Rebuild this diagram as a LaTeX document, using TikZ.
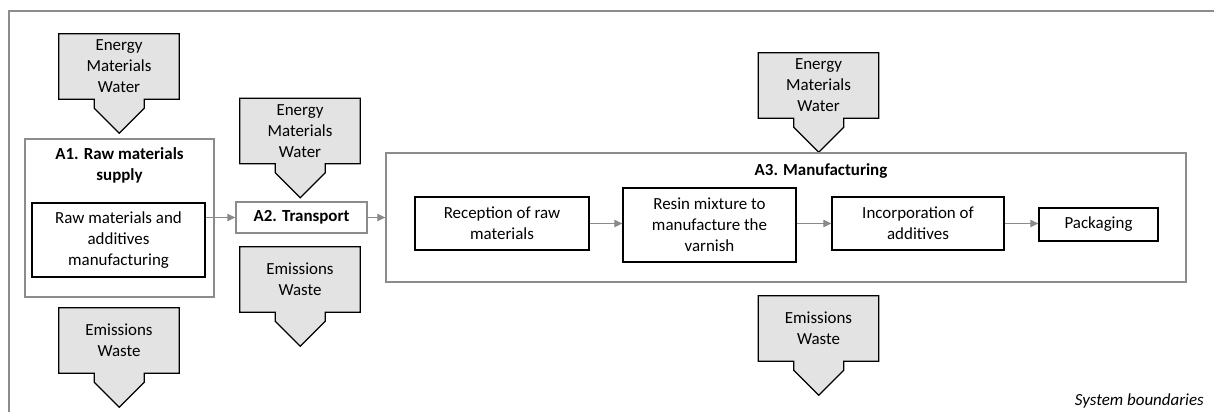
\documentclass[tikz,border=0pt]{standalone}
\usepackage{fontspec}
\setmainfont{Carlito}
\usetikzlibrary{arrows.meta,backgrounds}
\definecolor{bgray}{HTML}{8C8C8C}
\definecolor{fgray}{HTML}{E3E3E3}
\definecolor{agray}{HTML}{8A8A8A}
\newcommand\flowshape[1]{%
  \draw[flowline] (#1.north west) -- (#1.north east) -- (#1.south east) -- ++(-35,0) -- ++(0,9) -- ++(-25,25) -- ++(-25,-25) -- ++(0,-9) -- (#1.south west) -- cycle;}
\begin{document}
\begin{tikzpicture}[x=0.75pt,y=-0.75pt,
  every node/.style={font=\fontsize{12.7}{15.8}\selectfont, align=center, inner sep=0pt},
  flowbox/.style={minimum width=90pt, minimum height=48.75pt},
  flowline/.style={draw=black, line width=1pt, fill=fgray},
  procbox/.style={draw=black, line width=1pt},
  stagebox/.style={draw=bgray, line width=1pt},
  conn/.style={draw=agray, line width=0.8pt, -{Triangle[length=6pt,width=5.5pt]}},
  bound/.style={draw=bgray, line width=1.1pt}]
\useasboundingbox (0,0) rectangle (1214,412);
% system boundary
\coordinate (bl) at (9,412);
\coordinate (tl) at (9,11);
\coordinate (tr) at (1214,11);
\draw[bound] (bl) -- (tl) -- (tr);
% stage boxes
\node[stagebox, minimum width=141.75pt, minimum height=118.5pt] (a1) at (119.5,218) {};
\node[font=\fontsize{12.7}{15.8}\selectfont\bfseries] (a1t) at (119.5,165) {A1. Raw materials\\supply};
\node[procbox, minimum width=129.75pt, minimum height=55.5pt] (a1in) at (118.5,240) {Raw materials and\\additives\\manufacturing};
\node[stagebox, minimum width=98.25pt, minimum height=23.25pt, font=\fontsize{12.7}{15.8}\selectfont\bfseries] (a2) at (301.5,217.5) {A2. Transport};
\node[stagebox, minimum width=600pt, minimum height=96.75pt] (a3) at (786,217.5) {};
\node[font=\fontsize{12.7}{15.8}\selectfont\bfseries] (a3t) at (821,171) {A3. Manufacturing};
\node[procbox, minimum width=130.5pt, minimum height=39.75pt] (rec) at (502,223.5) {Reception of raw\\materials};
\node[procbox, minimum width=129.75pt, minimum height=55.5pt] (res) at (709.5,225) {Resin mixture to\\manufacture the\\varnish};
\node[procbox, minimum width=129pt, minimum height=39.75pt] (inc) at (918,223.5) {Incorporation of\\additives};
\node[procbox, minimum width=89.25pt, minimum height=24.75pt] (pack) at (1098.5,224.5) {Packaging};
% flow boxes
\node[flowbox] (e1) at (119,66.5) {Energy\\Materials\\Water};
\node[flowbox] (e2) at (300,131) {Energy\\Materials\\Water};
\node[flowbox] (e3) at (818.5,85.5) {Energy\\Materials\\Water};
\node[flowbox] (w1) at (119,340.5) {Emissions\\Waste};
\node[flowbox] (w2) at (300,279.5) {Emissions\\Waste};
\node[flowbox] (w3) at (818.5,328.5) {Emissions\\Waste};
\begin{scope}[on background layer]
\flowshape{e1}\flowshape{e2}\flowshape{e3}
\flowshape{w1}\flowshape{w2}\flowshape{w3}
\end{scope}
% connectors
\draw[conn] (a1in.east |- a2.west) -- (a2.west);
\draw[conn] (a2.east) -- (a2.east -| a3.west);
\draw[conn] (rec.east) -- (rec.east -| res.west);
\draw[conn] (res.east |- inc.west) -- (inc.west);
\draw[conn] (inc.east) -- (inc.east -| pack.west);
\node[anchor=east, font=\fontsize{12.7}{15.8}\selectfont\itshape] (sb) at (1204,401) {System boundaries};
\end{tikzpicture}
\end{document}
